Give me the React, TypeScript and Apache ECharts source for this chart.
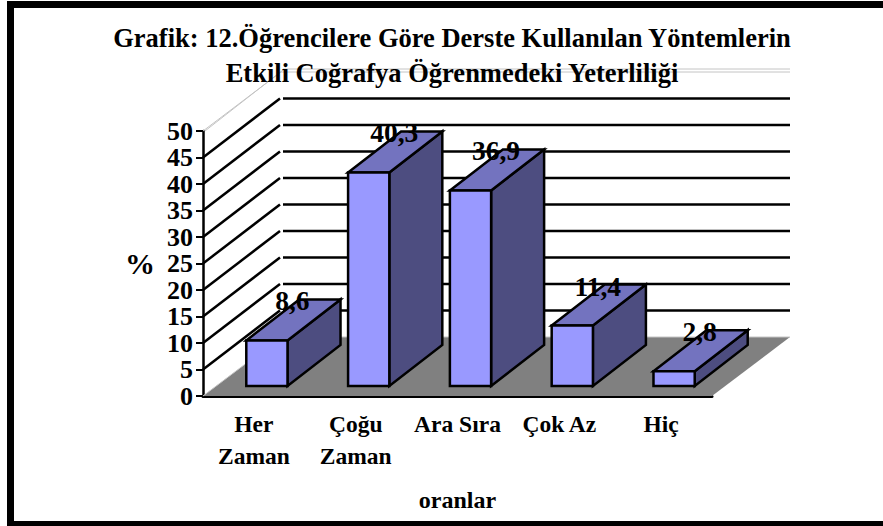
import React, { useEffect, useRef } from "react";
import * as echarts from "echarts";

const categories = ["Her\nZaman", "Çoğu\nZaman", "Ara Sıra", "Çok Az", "Hiç"];
const values = [8.6, 40.3, 36.9, 11.4, 2.8];
const valueLabels = ["8,6", "40,3", "36,9", "11,4", "2,8"];
const gridLevels = [5, 10, 15, 20, 25, 30, 35, 40, 45];
const edgeLevels = [0, 50];
const titleLines = "Grafik: 12.Öğrencilere Göre Derste Kullanılan Yöntemlerin\nEtkili Coğrafya Öğrenmedeki Yeterliliği";

const W = 883, H = 526;
const L = 203, R = 712, T = 131, B = 396;
const DX = 78, DY = 59;
const FONT = '"Liberation Serif", "Times New Roman", serif';

export default function App() {
  const ref = useRef<HTMLDivElement>(null);
  useEffect(() => {
    document.body.style.margin = "0";
    const chart = echarts.init(ref.current!, null, { renderer: "svg", width: W, height: H });
    chart.setOption({
      animation: false,
      backgroundColor: "#ffffff",
      title: {
        text: titleLines,
        left: 447,
        top: 15,
        textAlign: "center",
        z: 50,
        textStyle: { fontFamily: FONT, fontWeight: "bold", fontSize: 26.5, lineHeight: 35, color: "#000" },
      },
      grid: { left: L, right: W - R, top: T, bottom: H - B },
      xAxis: {
        type: "category",
        data: categories,
        name: "oranlar",
        nameLocation: "middle",
        nameGap: 92,
        nameTextStyle: { fontFamily: FONT, fontWeight: "bold", fontSize: 24, color: "#000" },
        axisLine: { lineStyle: { color: "#000", width: 3 } },
        axisTick: { length: 6, lineStyle: { color: "#000", width: 2 } },
        axisLabel: { interval: 0, margin: 12, fontFamily: FONT, fontWeight: "bold", fontSize: 23.5, lineHeight: 32, color: "#000" },
        splitLine: { show: false },
      },
      yAxis: {
        type: "value",
        min: 0,
        max: 50,
        interval: 5,
        name: "%",
        nameLocation: "middle",
        nameRotate: 0,
        nameGap: 48,
        nameTextStyle: { fontFamily: FONT, fontWeight: "bold", fontSize: 30, color: "#000" },
        axisLine: { show: true, lineStyle: { color: "#000", width: 2.5 } },
        axisTick: { show: true, length: 7, lineStyle: { color: "#000", width: 2 } },
        axisLabel: {
          margin: 10,
          showMinLabel: true,
          showMaxLabel: true,
          hideOverlap: false,
          fontFamily: FONT,
          fontWeight: "bold",
          fontSize: 26,
          lineHeight: 24,
          color: "#000",
        },
        splitLine: { show: false },
      },
      graphic: [
        { type: "rect", z: 100, silent: true, shape: { x: 7, y: 1, width: W - 7, height: 7 }, style: { fill: "#000" } },
        { type: "rect", z: 100, silent: true, shape: { x: 7, y: 1, width: 7, height: H - 1 }, style: { fill: "#000" } },
        { type: "rect", z: 100, silent: true, shape: { x: 7, y: 521, width: W - 7, height: 5 }, style: { fill: "#000" } },
      ],
      series: [
        {
          // floor
          type: "custom",
          coordinateSystem: "cartesian2d",
          z: 1,
          silent: true,
          data: [[0, 0]],
          renderItem: (_p: any, api: any) => {
            const a = api.coord([0, 0]);
            const size = api.size([1, 0]);
            const x0 = a[0] - size[0] / 2;
            const x1 = x0 + size[0] * categories.length;
            const y = a[1];
            return {
              type: "polygon",
              shape: { points: [[x0, y], [x1, y], [x1 + DX, y - DY], [x0 + DX, y - DY]] },
              style: { fill: "#808080", stroke: "none" },
            };
          },
        },
        {
          // wall grid lines
          type: "custom",
          coordinateSystem: "cartesian2d",
          z: 2,
          silent: true,
          data: gridLevels.map((v) => [0, v]),
          renderItem: (_p: any, api: any) => {
            const a = api.coord([0, api.value(1)]);
            const size = api.size([1, 0]);
            const x0 = a[0] - size[0] / 2;
            const x1 = x0 + size[0] * categories.length;
            const y = a[1];
            const style = { stroke: "#000", lineWidth: 2.5, fill: "none" };
            return {
              type: "group",
              children: [
                { type: "line", shape: { x1: x0, y1: y, x2: x0 + DX - 1, y2: y - DY }, style },
                { type: "line", shape: { x1: x0 + DX + 2, y1: y - DY, x2: x1 + DX, y2: y - DY }, style },
              ],
            };
          },
        },
        {
          // pale edges of the walls
          type: "custom",
          coordinateSystem: "cartesian2d",
          z: 2,
          silent: true,
          data: edgeLevels.map((v) => [0, v]),
          renderItem: (_p: any, api: any) => {
            const v = api.value(1);
            const a = api.coord([0, v]);
            const size = api.size([1, 0]);
            const x0 = a[0] - size[0] / 2;
            const x1 = x0 + size[0] * categories.length;
            const y = a[1];
            const style = { stroke: "#c4c4c4", lineWidth: 1, fill: "none" };
            const children: any[] = [
              { type: "line", shape: { x1: x0, y1: y, x2: x0 + DX, y2: y - DY }, style },
              { type: "line", shape: { x1: x0 + DX, y1: y - DY, x2: x1 + DX, y2: y - DY }, style },
            ];
            if (v > 0) {
              children.push(
                { type: "line", shape: { x1: x0 + 2, y1: y, x2: x0 + DX + 2, y2: y - DY - 2 }, style },
                { type: "line", shape: { x1: x0 + DX + 2, y1: y - DY - 3, x2: x1 + DX, y2: y - DY - 3 }, style }
              );
            }
            return { type: "group", children };
          },
        },
        {
          // 3D bars
          type: "custom",
          coordinateSystem: "cartesian2d",
          z: 3,
          silent: true,
          encode: { x: 0, y: 1 },
          data: values.map((v, i) => [i, v]),
          renderItem: (params: any, api: any) => {
            const i = api.value(0);
            const top = api.coord([i, api.value(1)]);
            const base = api.coord([i, 0]);
            const band = api.size([1, 0])[0];
            const w = band * 0.405;
            const sx = 13, sy = 10;
            const ddx = 53, ddy = 41;
            const xl = top[0] - w / 2 + sx;
            const xr = xl + w;
            const yt = top[1] - sy;
            const yb = base[1] - sy;
            const stroke = { stroke: "#000", lineWidth: 2.5, lineJoin: "miter" };
            return {
              type: "group",
              children: [
                {
                  type: "polygon",
                  shape: { points: [[xr, yt], [xr + ddx, yt - ddy], [xr + ddx, yb - ddy], [xr, yb]] },
                  style: { fill: "#4D4D80", ...stroke },
                },
                {
                  type: "polygon",
                  shape: { points: [[xl, yt], [xr, yt], [xr + ddx, yt - ddy], [xl + ddx, yt - ddy]] },
                  style: { fill: "#7373BF", ...stroke },
                },
                { type: "rect", shape: { x: xl, y: yt, width: w, height: yb - yt }, style: { fill: "#9999FF", ...stroke } },
                {
                  type: "text",
                  style: {
                    text: valueLabels[params.dataIndex],
                    x: xl + w / 2 + ddx / 2 - 1,
                    y: yt - ddy / 2 - 19,
                    align: "center",
                    verticalAlign: "middle",
                    fontFamily: FONT,
                    fontWeight: "bold",
                    fontSize: 27.5,
                    fill: "#000",
                  },
                },
              ],
            };
          },
        },
      ],
    });
    return () => chart.dispose();
  }, []);
  return <div ref={ref} style={{ width: W, height: H }} />;
}
